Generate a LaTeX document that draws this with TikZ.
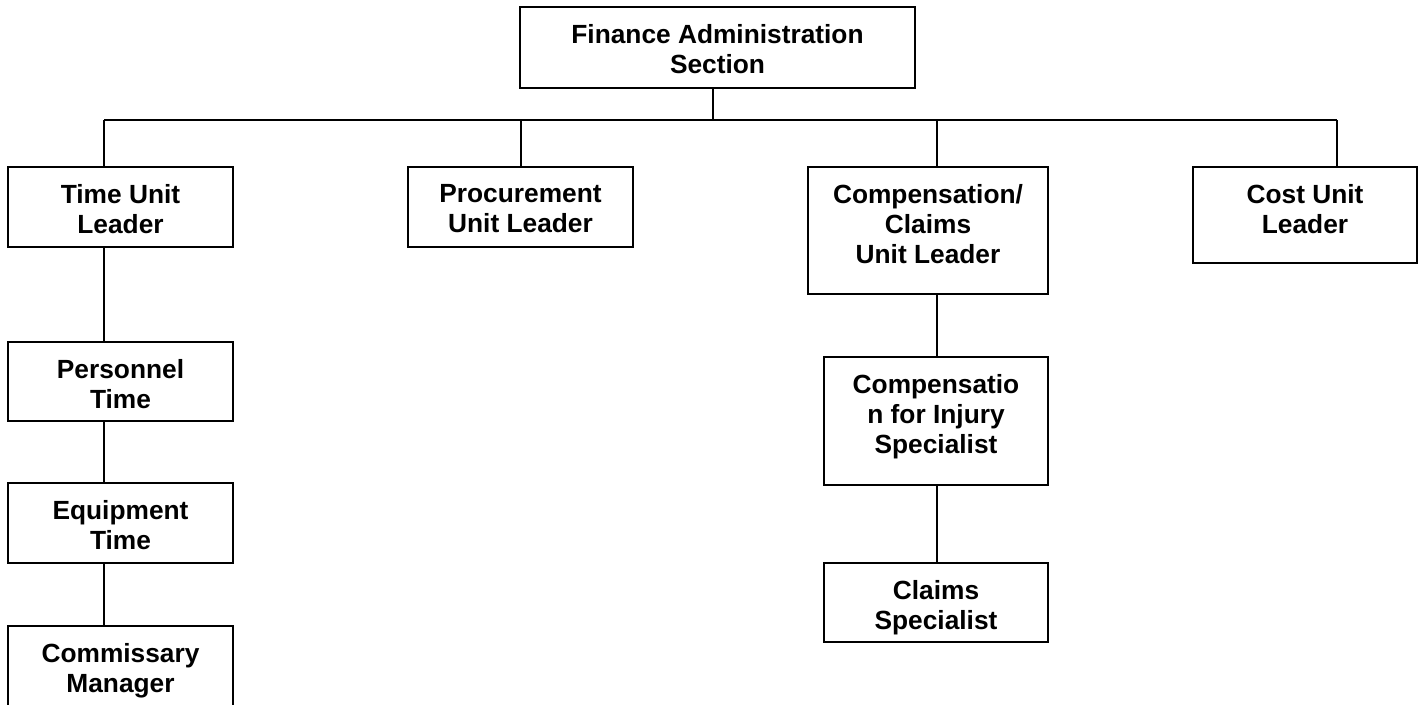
\documentclass[tikz,border=0pt]{standalone}
\usepackage{fontspec}
\setmainfont{Liberation Sans}
\begin{document}
\begin{tikzpicture}[x=1pt,y=-1pt,
  box/.style={draw=black, line width=2pt, rectangle, inner sep=0pt},
  txt/.style={anchor=north, inner sep=0pt, align=center, font=\fontsize{26.3}{30}\selectfont\bfseries},
  link/.style={draw=black, line width=1.6pt}]
\useasboundingbox (0,0) rectangle (1420,704);
\clip (0,0) rectangle (1420,704);
\fill[white] (0,0) rectangle (1420,704);

% boxes
\node[box, minimum width=395pt, minimum height=81pt] (fin) at (717.5,47.5) {};
\node[box, minimum width=225pt, minimum height=80pt] (time) at (120.5,207) {};
\node[box, minimum width=225pt, minimum height=80pt] (proc) at (520.5,207) {};
\node[box, minimum width=240pt, minimum height=127pt] (comp) at (928,230.5) {};
\node[box, minimum width=224pt, minimum height=96pt] (cost) at (1305,215) {};
\node[box, minimum width=225pt, minimum height=79pt] (pers) at (120.5,381.5) {};
\node[box, minimum width=225pt, minimum height=80pt] (equip) at (120.5,523) {};
\node[box, minimum width=225pt, minimum height=80pt] (comm) at (120.5,666) {};
\node[box, minimum width=224pt, minimum height=128pt] (inj) at (936,421) {};
\node[box, minimum width=224pt, minimum height=79pt] (claims) at (936,602.5) {};

% texts
\node[txt] (finT) at ([yshift=-18pt]fin.north) {Finance Administration\\Section};
\node[txt] (timeT) at ([yshift=-18pt]time.north) {Time Unit\\Leader};
\node[txt] (procT) at ([yshift=-18pt]proc.north) {Procurement\\Unit Leader};
\node[txt] (compT) at ([yshift=-18pt]comp.north) {Compensation/\\Claims\\Unit Leader};
\node[txt] (costT) at ([yshift=-18pt]cost.north) {Cost Unit\\Leader};
\node[txt] (persT) at ([yshift=-18pt]pers.north) {Personnel\\Time};
\node[txt] (equipT) at ([yshift=-18pt]equip.north) {Equipment\\Time};
\node[txt] (commT) at ([yshift=-18pt]comm.north) {Commissary\\Manager};
\node[txt] (injT) at ([yshift=-18pt]inj.north) {Compensatio\\n for Injury\\Specialist};
\node[txt] (claimsT) at ([yshift=-18pt]claims.north) {Claims\\Specialist};

% connectors
\coordinate (bus) at (713,120);
\coordinate (busL) at (104,120);
\coordinate (busR) at (1337,120);
\coordinate (px) at (521,120);
\coordinate (cx) at (937,120);
\draw[link] (fin.south -| bus) -- (bus);
\draw[link] (busL) -- (busR);
\draw[link] (busL) -- (busL |- time.north);
\draw[link] (px) -- (px |- proc.north);
\draw[link] (cx) -- (cx |- comp.north);
\draw[link] (busR) -- (busR |- cost.north);
\draw[link] (time.south -| busL) -- (pers.north -| busL);
\draw[link] (pers.south -| busL) -- (equip.north -| busL);
\draw[link] (equip.south -| busL) -- (comm.north -| busL);
\draw[link] (comp.south -| cx) -- (inj.north -| cx);
\draw[link] (inj.south -| cx) -- (claims.north -| cx);
\end{tikzpicture}
\end{document}
